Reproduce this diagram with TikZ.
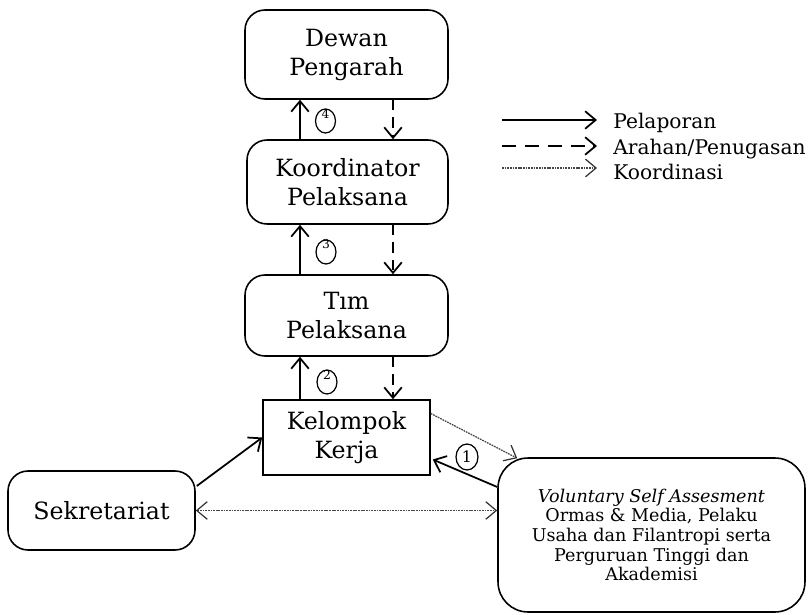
\documentclass[tikz,border=0pt]{standalone}
\usepackage{fontspec}
\setmainfont{DejaVu Serif}
\usetikzlibrary{positioning,calc,arrows.meta,shapes.geometric}

\begin{document}
\begin{tikzpicture}[x=0.02cm, y=-0.02cm,
    every node/.style={inner sep=0pt},
    box/.style={draw, line width=0.9pt, rounded corners=0.4cm, align=center,
        font=\fontsize{13.5}{16.5}\selectfont},
    report/.style={line width=1pt, -{Straight Barb[length=6pt,width=10pt]}},
    order/.style={line width=1pt, dash pattern=on 6pt off 4pt, -{Straight Barb[length=6pt,width=10pt]}},
    coord/.style={line width=0.7pt, gray!55!black, dash pattern=on 1pt off 0.5pt,
        -{Straight Barb[length=6pt,width=10pt,color=black!80]}},
    num/.style={draw, ellipse, line width=0.7pt, minimum width=0.4cm, minimum height=0.48cm},
    numtxt/.style={yshift=4.3pt, font=\fontsize{7}{7}\selectfont},
    legtxt/.style={anchor=west, font=\fontsize{11.5}{13}\selectfont}
]

    \useasboundingbox (0,0) rectangle (809,615);

    \node[box, minimum width=4.06cm, minimum height=1.78cm] (dewan) at (346.5,54.5) {Dewan\\Pengarah};
    \node[box, minimum width=4.02cm, minimum height=1.68cm] (koord) at (347.5,182) {Koordinator\\Pelaksana};
    \node[box, minimum width=4.06cm, minimum height=1.62cm] (tim) at (346.5,315.5) {Tım\\Pelaksana};
    \node[box, rounded corners=0pt, minimum width=3.34cm, minimum height=1.5cm] (kelompok) at (346.5,437.5) {Kelompok\\Kerja};
    \node[box, minimum width=3.74cm, minimum height=1.58cm] (sekret) at (101.5,510.5) {Sekretariat};
    \node[box, rounded corners=0.6cm, minimum width=6.14cm, minimum height=3.08cm,
        font=\fontsize{10}{11.2}\selectfont] (vsa) at (651.5,535)
        {\textit{Voluntary Self Assesment}\\Ormas \& Media, Pelaku\\Usaha dan Filantropi serta\\Perguruan Tinggi dan\\Akademisi};

    \coordinate (upx) at (300,0);
    \coordinate (dnx) at (393,0);

    % pelaporan naik, arahan turun
    \draw[report] (koord.north -| upx) -- (dewan.south -| upx);
    \draw[order] (dewan.south -| dnx) -- (koord.north -| dnx);
    \draw[report] (tim.north -| upx) -- (koord.south -| upx);
    \draw[order] (koord.south -| dnx) -- (tim.north -| dnx);
    \draw[report] (kelompok.north -| upx) -- (tim.south -| upx);
    \draw[order] (tim.south -| dnx) -- (kelompok.north -| dnx);

    \draw[report] ($(sekret.east)+(1,-24.5)$) -- (kelompok.west);
    \draw[report] ($(vsa.west)+(0,-48)$) -- ($(kelompok.east)+(2,22)$);
    \draw[coord] ($(kelompok.east)+(0,-24)$) -- ($(vsa.north west)+(20,1)$);
    \draw[coord, {Straight Barb[length=6pt,width=10pt,color=black!80]}-{Straight Barb[length=6pt,width=10pt,color=black!80]}]
        (sekret.east) -- (sekret.east -| vsa.west);

    \node[num, label={[numtxt]center:4}] (n4) at (325.5,121) {};
    \node[num, label={[numtxt]center:3}] (n3) at (326,252) {};
    \node[num, label={[numtxt]center:2}] (n2) at (327,382) {};
    \node[num, minimum width=0.44cm, minimum height=0.52cm, font=\fontsize{9}{9}\selectfont] (n1) at (467,457) {1};

    % keterangan
    \coordinate (ls1) at (502,120);
    \coordinate (le1) at (597,120);
    \coordinate (ls2) at (502,146);
    \coordinate (le2) at (597,146);
    \coordinate (ls3) at (502,168);
    \coordinate (le3) at (597,168);
    \draw[report] (ls1) -- (le1);
    \draw[order, dash pattern=on 8pt off 5pt] (ls2) -- (le2);
    \draw[coord] (ls3) -- (le3);
    \node[legtxt] (tlap) at (613,123) {Pelaporan};
    \node[legtxt] (taru) at (613,149) {Arahan/Penugasan};
    \node[legtxt] (tkoo) at (613,172) {Koordinasi};

\end{tikzpicture}
\end{document}
